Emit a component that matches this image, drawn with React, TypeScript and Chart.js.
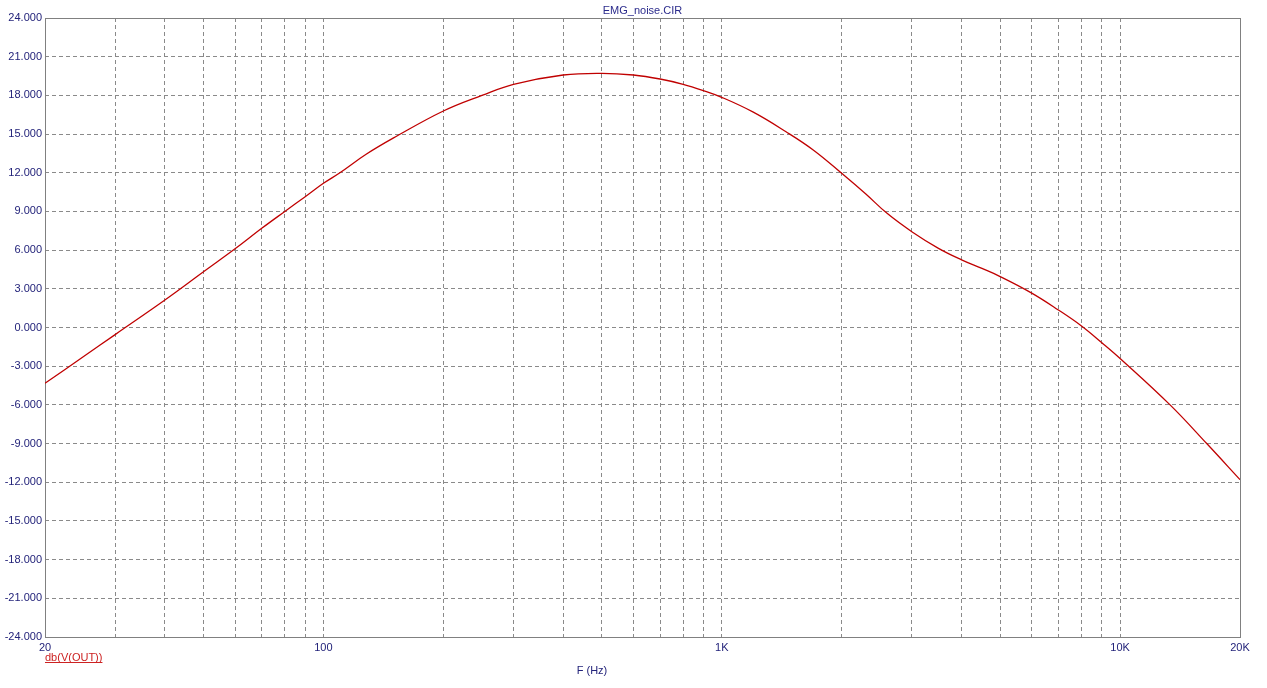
import React, { useEffect, useRef } from 'react';
import { Chart, registerables } from 'chart.js';

Chart.register(...registerables);

// Frequency (Hz) and dB(V(OUT))
const freqs = [20, 25, 30, 40, 50, 60, 70, 80, 90, 100, 110, 128, 150, 200, 250, 300, 400, 500, 600, 700, 800, 900, 1000, 1200, 1450, 1700, 2000, 2300, 2600, 3000, 3500, 4000, 4500, 5000, 6000, 7000, 8000, 9000, 10000, 13350, 16500, 20000];
const dbOut = [-4.33, -2.25, -0.55, 2.13, 4.32, 6.1, 7.69, 9.0, 10.14, 11.18, 12.0, 13.43, 14.7, 16.79, 18.0, 18.86, 19.58, 19.71, 19.58, 19.27, 18.86, 18.37, 17.85, 16.7, 15.18, 13.75, 11.96, 10.35, 8.85, 7.43, 6.14, 5.25, 4.58, 3.95, 2.67, 1.36, 0.12, -1.18, -2.4, -6.0, -9.0, -11.8];

// Grid frequencies on the x axis
const gridFreqs = [20, 30, 40, 50, 60, 70, 80, 90, 100, 200, 300, 400, 500, 600, 700, 800, 900, 1000, 2000, 3000, 4000, 5000, 6000, 7000, 8000, 9000, 10000, 20000];
const labeledFreqs = [20, 100, 1000, 10000, 20000];
const labeledText = ['20', '100', '1K', '10K', '20K'];

const yMin = -24;
const yMax = 24;
const yStep = 3;

const chartTitle = 'EMG_noise.CIR';
const xTitle = 'F (Hz)';
const seriesName = 'db(V(OUT))';

const FONT = '"Liberation Sans", Arial, sans-serif';
const NAVY = '#23237a';
const GRID = '#8a8a8a';
const RED = '#c00000';

export default function App() {
  const ref = useRef<HTMLCanvasElement | null>(null);

  useEffect(() => {
    if (!ref.current) return;

    const textPlugin = {
      id: 'textPlugin',
      beforeDatasetsDraw(chart: any) {
        const { ctx, chartArea } = chart;
        ctx.save();
        ctx.strokeStyle = '#808080';
        ctx.lineWidth = 1;
        ctx.setLineDash([]);
        ctx.strokeRect(
          Math.round(chartArea.left) + 0.5,
          Math.round(chartArea.top) + 0.5,
          Math.round(chartArea.right - chartArea.left),
          Math.round(chartArea.bottom - chartArea.top)
        );
        ctx.restore();
      },
      afterDraw(chart: any) {
        const { ctx, chartArea } = chart;
        ctx.save();
        ctx.font = `11px ${FONT}`;
        ctx.textBaseline = 'middle';
        // title centered on plot area
        ctx.fillStyle = '#2b2b8c';
        ctx.textAlign = 'center';
        ctx.fillText(chartTitle, (chartArea.left + chartArea.right) / 2, 11);
        // x axis title
        ctx.fillStyle = NAVY;
        ctx.fillText(xTitle, 592, 671);
        // series legend, underlined
        ctx.fillStyle = '#cc2222';
        ctx.textAlign = 'left';
        ctx.fillText(seriesName, chartArea.left, 658);
        const w = ctx.measureText(seriesName).width;
        ctx.strokeStyle = '#cc2222';
        ctx.lineWidth = 1;
        ctx.beginPath();
        ctx.moveTo(chartArea.left, 662.5);
        ctx.lineTo(chartArea.left + w, 662.5);
        ctx.stroke();
        ctx.restore();
      },
    };

    const chart = new Chart(ref.current, {
      type: 'line',
      data: {
        datasets: [
          {
            label: seriesName,
            data: freqs.map((f, i) => ({ x: f, y: dbOut[i] })),
            borderColor: RED,
            borderWidth: 1.3,
            pointRadius: 0,
            fill: false,
            tension: 0.4,
          },
        ],
      },
      options: {
        animation: false,
        responsive: false,
        maintainAspectRatio: false,
        layout: { padding: { top: 18, right: 27, left: 0, bottom: 0 } },
        plugins: {
          legend: { display: false },
          title: { display: false },
          tooltip: { enabled: false },
        },
        scales: {
          x: {
            type: 'logarithmic',
            min: 20,
            max: 20000,
            afterFit(scale: any) {
              scale.height = 51;
            },
            afterBuildTicks(scale: any) {
              scale.ticks = gridFreqs.map((v) => ({ value: v }));
            },
            grid: { color: GRID, lineWidth: 1, drawTicks: false },
            border: { display: false, dash: [4, 3] },
            ticks: {
              autoSkip: false,
              maxRotation: 0,
              padding: 4,
              color: NAVY,
              font: { family: FONT, size: 11 },
              callback: (value: any) => {
                const idx = labeledFreqs.indexOf(Number(value));
                return idx >= 0 ? labeledText[idx] : '';
              },
            },
          },
          y: {
            type: 'linear',
            min: yMin,
            max: yMax,
            afterFit(scale: any) {
              scale.width = 45;
            },
            grid: { color: GRID, lineWidth: 1, drawTicks: false },
            border: { display: false, dash: [4, 3] },
            ticks: {
              stepSize: yStep,
              padding: 3,
              color: NAVY,
              font: { family: FONT, size: 11 },
              callback: (value: any) => Number(value).toFixed(3),
            },
          },
        },
      },
      plugins: [textPlugin],
    } as any);

    return () => chart.destroy();
  }, []);

  return (
    <div style={{ position: 'fixed', left: 0, top: 0, width: 1267, height: 688, background: '#fff' }}>
      <canvas ref={ref} width={1267} height={688} style={{ display: 'block' }} />
    </div>
  );
}
